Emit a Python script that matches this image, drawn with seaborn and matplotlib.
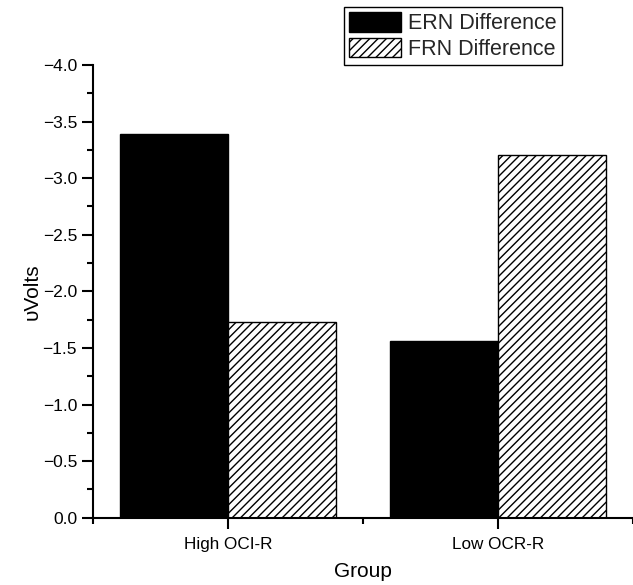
import matplotlib
matplotlib.use("Agg")
import matplotlib.pyplot as plt
from matplotlib.ticker import MultipleLocator, FixedLocator
import seaborn as sns
import pandas as pd

# Group-level difference amplitudes (microvolts)
groups = ["High OCI-R", "Low OCR-R"]
measures = ["ERN Difference", "FRN Difference"]
ern_diff = [-3.39, -1.56]
frn_diff = [-1.73, -3.20]
y_ticks = [0.0, -0.5, -1.0, -1.5, -2.0, -2.5, -3.0, -3.5, -4.0]

df = pd.DataFrame({
    "Group": groups * 2,
    "Measure": [measures[0]] * len(groups) + [measures[1]] * len(groups),
    "Value": ern_diff + frn_diff,
})

sns.set_theme(style="ticks")
plt.rcParams["font.family"] = ["Liberation Sans", "DejaVu Sans"]
plt.rcParams["hatch.linewidth"] = 1.0
plt.rcParams["hatch.color"] = "black"

fig, ax = plt.subplots(figsize=(6.33, 5.85), dpi=100)
fig.subplots_adjust(left=0.147, right=1.0, bottom=0.115, top=0.889)

sns.barplot(data=df, x="Group", y="Value", hue="Measure", order=groups,
            hue_order=measures, palette=["black", "white"], width=0.8,
            edgecolor="black", linewidth=1.0, errorbar=None, ax=ax,
            legend=False, saturation=1)

# second series: white with dense diagonal hatching
for bar in ax.containers[1]:
    bar.set_hatch("////")
    bar.set_facecolor("white")
    bar.set_edgecolor("black")

ax.set_xlim(-0.5, 1.5)
ax.set_ylim(0, -4.0)
ax.yaxis.set_major_locator(FixedLocator(y_ticks))
ax.yaxis.set_minor_locator(MultipleLocator(0.25))
ax.yaxis.set_major_formatter(plt.FuncFormatter(lambda v, p: f"{v:.1f}".replace("-", "\u2212") if v != 0 else "0.0"))
ax.xaxis.set_minor_locator(FixedLocator([-0.5, 0.5, 1.5]))

sns.despine(ax=ax)
for side in ["left", "bottom"]:
    ax.spines[side].set_linewidth(1.5)
    ax.spines[side].set_color("black")

ax.tick_params(axis="both", which="major", direction="out", length=8,
               width=1.5, labelsize=12.5, colors="black")
ax.tick_params(axis="both", which="minor", direction="out", length=4.5,
               width=1.5, colors="black")
ax.tick_params(axis="x", which="major", labelsize=12.3, pad=6)

ax.set_xlabel("Group", fontsize=15, labelpad=7, color="black")
ax.set_ylabel("\u03c5Volts", fontsize=15, labelpad=1, color="black")

leg = fig.legend(ax.containers, measures, loc="upper right",
                 bbox_to_anchor=(0.888, 0.988), fontsize=15.5, frameon=True,
                 fancybox=False, edgecolor="black", framealpha=1,
                 handlelength=2.4, handleheight=1.0, handletextpad=0.35,
                 borderpad=0.25, labelspacing=0.15, borderaxespad=0)
leg.get_frame().set_linewidth(1.0)

fig.savefig("out.png", dpi=100, facecolor="white")
